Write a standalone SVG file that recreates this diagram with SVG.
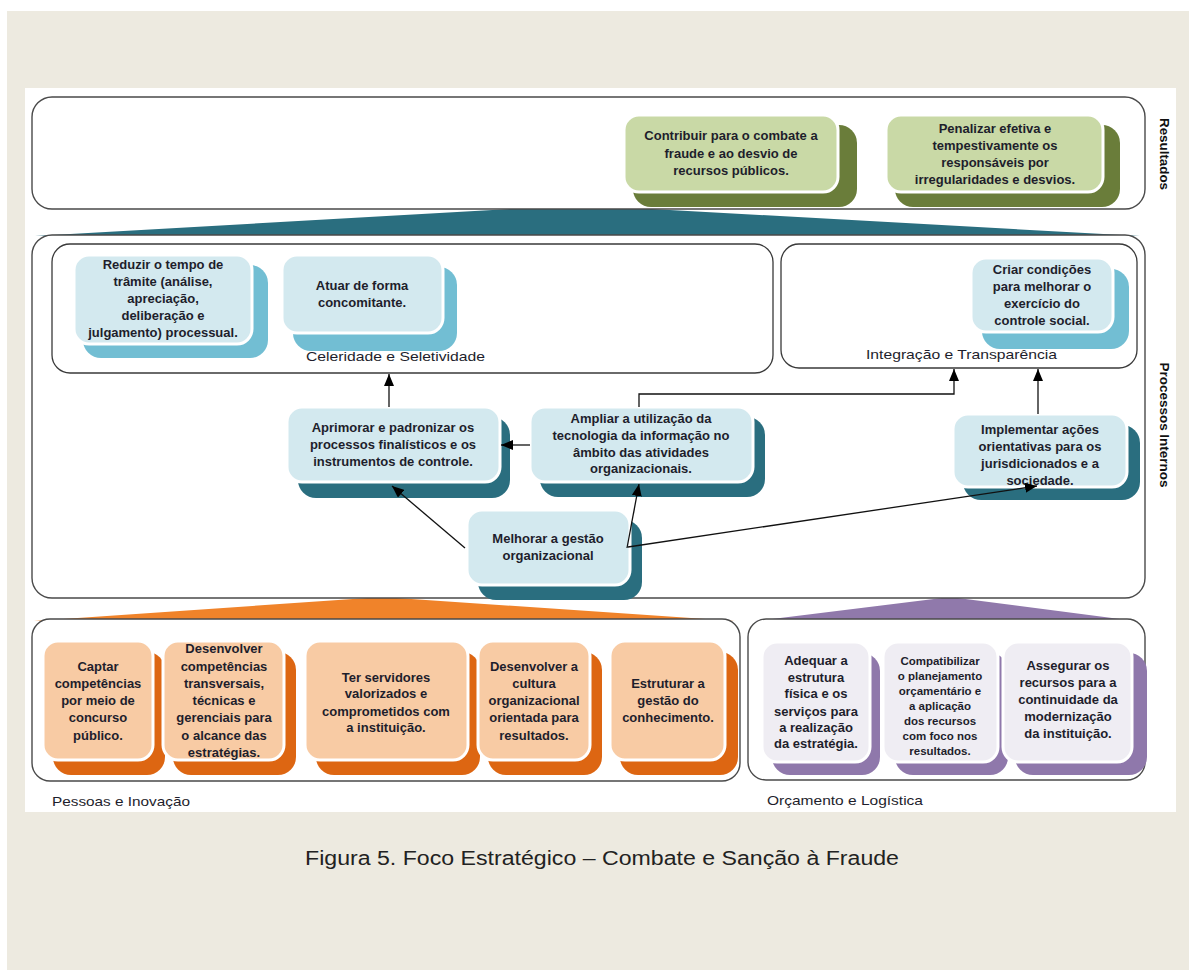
<svg xmlns="http://www.w3.org/2000/svg" width="1193" height="970" viewBox="0 0 1193 970">
<defs>
<style>
.frame{fill:#fff;stroke:#4a4a4a;stroke-width:1.4}
.inner{fill:none;stroke:#3a3a3a;stroke-width:1.3}
.front{stroke:#fff;stroke-width:3}
.gf{fill:#c9d9a6}.gs{fill:#6a7d3a}
.bf{fill:#d3e9ef}.bl{fill:#72bed3}.bd{fill:#2a6e7f}
.of{fill:#f8cba4}.os{fill:#dd6612}
.pf{fill:#efedf3}.ps{fill:#8f78ab}
.t{font-family:"Liberation Sans",Arial,sans-serif;font-size:13px;font-weight:bold;fill:#1e1e2c;text-anchor:middle}
.ts{font-size:11.5px}
.lbl{font-family:"Liberation Sans",Arial,sans-serif;font-size:13px;fill:#1e1e2c}
.side{font-family:"Liberation Sans",Arial,sans-serif;font-size:13px;font-weight:bold;fill:#111;text-anchor:middle}
.conn{fill:none;stroke:#111;stroke-width:1.3}
</style>
<marker id="ah" markerUnits="userSpaceOnUse" markerWidth="12" markerHeight="10" refX="12" refY="5" orient="auto">
<path d="M0,0 L12,5 L0,10 z" fill="#000"/>
</marker>
</defs>
<rect x="0" y="0" width="1193" height="970" fill="#fff"/>
<rect x="7" y="11" width="1182" height="959" fill="#edeae0"/>
<rect x="25" y="88" width="1151" height="724" fill="#fff"/>

<!-- bands -->
<polygon points="35,236 580,205 1140,236" fill="#2a6e7f"/>
<polygon points="34,621 382,597 735,621" fill="#f0832a"/>
<polygon points="755,621 950,597 1135,621" fill="#9079ab"/>

<!-- frames -->
<g id="resultados">
<rect class="frame" x="32" y="97" width="1113" height="112" rx="20"/>
<text class="side" transform="translate(1160,154) rotate(90)" textLength="72" lengthAdjust="spacingAndGlyphs">Resultados</text>
</g>
<g id="processos">
<rect class="frame" x="32" y="235" width="1113" height="363" rx="20"/>
<text class="side" transform="translate(1160,425) rotate(90)" textLength="125" lengthAdjust="spacingAndGlyphs">Processos Internos</text>
</g>
<g id="celeridade">
<rect class="inner" x="52" y="244" width="721" height="129" rx="18"/>
<text class="lbl" x="306" y="361" textLength="179" lengthAdjust="spacingAndGlyphs">Celeridade e Seletividade</text>
</g>
<g id="integracao">
<rect class="inner" x="781" y="244" width="356" height="124" rx="18"/>
<text class="lbl" x="866" y="359" textLength="191" lengthAdjust="spacingAndGlyphs">Integração e Transparência</text>
</g>
<g id="pessoas">
<rect class="frame" x="32" y="619" width="708" height="162" rx="18"/>
<text class="lbl" x="52" y="806" font-size="12" textLength="138" lengthAdjust="spacingAndGlyphs">Pessoas e Inovação</text>
</g>
<g id="orcamento">
<rect class="frame" x="748" y="619" width="397" height="161" rx="18"/>
<text class="lbl" x="767" y="805" font-size="12" textLength="156" lengthAdjust="spacingAndGlyphs">Orçamento e Logística</text>
</g>

<!-- results nodes -->
<g id="n-contribuir">
<rect class="gs" x="633" y="125" width="224" height="82" rx="18"/>
<rect class="gf front" x="624" y="115" width="214" height="77" rx="15"/>
<text class="t"><tspan x="731" y="140">Contribuir para o combate a</tspan><tspan x="731" y="158">fraude e ao desvio de</tspan><tspan x="731" y="175">recursos públicos.</tspan></text>
</g>
<g id="n-penalizar">
<rect class="gs" x="895" y="125" width="225" height="82" rx="18"/>
<rect class="gf front" x="886" y="115" width="217" height="77" rx="15"/>
<text class="t"><tspan x="995" y="133">Penalizar efetiva e</tspan><tspan x="995" y="150">tempestivamente os</tspan><tspan x="995" y="167">responsáveis por</tspan><tspan x="995" y="184">irregularidades e desvios.</tspan></text>
</g>

<!-- process nodes -->
<g id="n-reduzir">
<rect class="bl" x="83" y="265" width="185" height="93" rx="18"/>
<rect class="bf front" x="74" y="255" width="178" height="89" rx="15"/>
<text class="t"><tspan x="163" y="269">Reduzir o tempo de</tspan><tspan x="163" y="286">trâmite (análise,</tspan><tspan x="163" y="303">apreciação,</tspan><tspan x="163" y="320">deliberação e</tspan><tspan x="163" y="337">julgamento) processual.</tspan></text>
</g>
<g id="n-atuar">
<rect class="bl" x="293" y="267" width="164" height="84" rx="18"/>
<rect class="bf front" x="282" y="255" width="161" height="78" rx="15"/>
<text class="t"><tspan x="362" y="290">Atuar de forma</tspan><tspan x="362" y="307">concomitante.</tspan></text>
</g>
<g id="n-criar">
<rect class="bl" x="982" y="269" width="147" height="80" rx="18"/>
<rect class="bf front" x="971" y="258" width="142" height="74" rx="15"/>
<text class="t"><tspan x="1042" y="274">Criar condições</tspan><tspan x="1042" y="291">para melhorar o</tspan><tspan x="1042" y="308">exercício do</tspan><tspan x="1042" y="325">controle social.</tspan></text>
</g>
<g id="n-aprimorar">
<rect class="bd" x="298" y="417" width="212" height="81" rx="18"/>
<rect class="bf front" x="287" y="407" width="213" height="75" rx="15"/>
<text class="t"><tspan x="393" y="432">Aprimorar e padronizar os</tspan><tspan x="393" y="449">processos finalísticos e os</tspan><tspan x="393" y="466">instrumentos de controle.</tspan></text>
</g>
<g id="n-ampliar">
<rect class="bd" x="540" y="417" width="225" height="80" rx="18"/>
<rect class="bf front" x="530" y="407" width="223" height="75" rx="15"/>
<text class="t"><tspan x="641" y="423">Ampliar a utilização da</tspan><tspan x="641" y="440">tecnologia da informação no</tspan><tspan x="641" y="457">âmbito das atividades</tspan><tspan x="641" y="473">organizacionais.</tspan></text>
</g>
<g id="n-implementar">
<rect class="bd" x="963" y="425" width="177" height="75" rx="18"/>
<rect class="bf front" x="953" y="414" width="174" height="73" rx="15"/>
<text class="t"><tspan x="1040" y="434">Implementar ações</tspan><tspan x="1040" y="451">orientativas para os</tspan><tspan x="1040" y="468">jurisdicionados e a</tspan><tspan x="1040" y="485">sociedade.</tspan></text>
</g>
<g id="n-melhorar">
<rect class="bd" x="478" y="520" width="164" height="80" rx="18"/>
<rect class="bf front" x="467" y="510" width="163" height="75" rx="15"/>
<text class="t"><tspan x="548" y="543">Melhorar a gestão</tspan><tspan x="548" y="560">organizacional</tspan></text>
</g>

<!-- pessoas nodes -->
<g id="n-captar">
<rect class="os" x="53" y="652" width="112" height="123" rx="18"/>
<rect class="of front" x="43" y="641" width="110" height="119" rx="15"/>
<text class="t"><tspan x="98" y="671">Captar</tspan><tspan x="98" y="688">competências</tspan><tspan x="98" y="705">por meio de</tspan><tspan x="98" y="722">concurso</tspan><tspan x="98" y="740">público.</tspan></text>
</g>
<g id="n-desenvolver-comp">
<rect class="os" x="173" y="652" width="123" height="123" rx="18"/>
<rect class="of front" x="163" y="641" width="121" height="119" rx="15"/>
<text class="t"><tspan x="224" y="653">Desenvolver</tspan><tspan x="224" y="671">competências</tspan><tspan x="224" y="688">transversais,</tspan><tspan x="224" y="705">técnicas e</tspan><tspan x="224" y="722">gerenciais para</tspan><tspan x="224" y="740">o alcance das</tspan><tspan x="224" y="757">estratégias.</tspan></text>
</g>
<g id="n-ter">
<rect class="os" x="316" y="652" width="164" height="123" rx="18"/>
<rect class="of front" x="305" y="641" width="163" height="119" rx="15"/>
<text class="t"><tspan x="386" y="682">Ter servidores</tspan><tspan x="386" y="698">valorizados e</tspan><tspan x="386" y="716">comprometidos com</tspan><tspan x="386" y="732">a instituição.</tspan></text>
</g>
<g id="n-cultura">
<rect class="os" x="488" y="652" width="114" height="123" rx="18"/>
<rect class="of front" x="478" y="641" width="112" height="119" rx="15"/>
<text class="t"><tspan x="534" y="671">Desenvolver a</tspan><tspan x="534" y="688">cultura</tspan><tspan x="534" y="705">organizacional</tspan><tspan x="534" y="722">orientada para</tspan><tspan x="534" y="740">resultados.</tspan></text>
</g>
<g id="n-estruturar">
<rect class="os" x="620" y="652" width="118" height="123" rx="18"/>
<rect class="of front" x="610" y="641" width="115" height="119" rx="15"/>
<text class="t"><tspan x="668" y="688">Estruturar a</tspan><tspan x="668" y="705">gestão do</tspan><tspan x="668" y="722">conhecimento.</tspan></text>
</g>

<!-- orcamento nodes -->
<g id="n-adequar">
<rect class="ps" x="772" y="653" width="108" height="122" rx="18"/>
<rect class="pf front" x="762" y="642" width="108" height="120" rx="15"/>
<text class="t"><tspan x="816" y="665">Adequar a</tspan><tspan x="816" y="682">estrutura</tspan><tspan x="816" y="698">física e os</tspan><tspan x="816" y="716">serviços para</tspan><tspan x="816" y="732">a realização</tspan><tspan x="816" y="748">da estratégia.</tspan></text>
</g>
<g id="n-compatibilizar">
<rect class="ps" x="895" y="653" width="113" height="122" rx="18"/>
<rect class="pf front" x="883" y="642" width="115" height="120" rx="15"/>
<text class="t ts"><tspan x="940" y="665">Compatibilizar</tspan><tspan x="940" y="680">o planejamento</tspan><tspan x="940" y="695">orçamentário e</tspan><tspan x="940" y="710">a aplicação</tspan><tspan x="940" y="725">dos recursos</tspan><tspan x="940" y="740">com foco nos</tspan><tspan x="940" y="755">resultados.</tspan></text>
</g>
<g id="n-assegurar">
<rect class="ps" x="1015" y="653" width="132" height="122" rx="18"/>
<rect class="pf front" x="1003" y="642" width="129" height="120" rx="15"/>
<text class="t"><tspan x="1068" y="670">Assegurar os</tspan><tspan x="1068" y="687">recursos para a</tspan><tspan x="1068" y="704">continuidade da</tspan><tspan x="1068" y="721">modernização</tspan><tspan x="1068" y="738">da instituição.</tspan></text>
</g>

<!-- connectors -->
<g id="connectors">
<path class="conn" d="M389,407 L389,374" marker-end="url(#ah)"/>
<path class="conn" d="M530,445 L501,445" marker-end="url(#ah)"/>
<path class="conn" d="M639,407 L639,394 L954,394 L954,369" marker-end="url(#ah)"/>
<path class="conn" d="M1038,414 L1038,369" marker-end="url(#ah)"/>
<path class="conn" d="M465,548 L392,486" marker-end="url(#ah)"/>
<path class="conn" d="M627,548 L639,484" marker-end="url(#ah)"/>
<path class="conn" d="M628,547 L1037,486" marker-end="url(#ah)"/>
</g>

<text x="602" y="865" font-family="Liberation Sans, Arial, sans-serif" font-size="20" fill="#222" text-anchor="middle" textLength="594" lengthAdjust="spacingAndGlyphs">Figura 5. Foco Estratégico – Combate e Sanção à Fraude</text>
</svg>
